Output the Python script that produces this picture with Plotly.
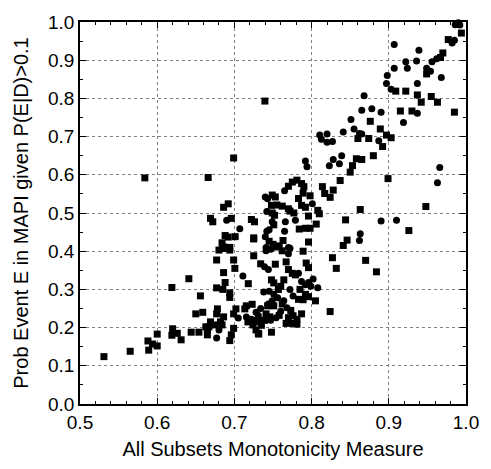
import plotly.graph_objects as go

# Square-marker series (x, y)
sq_x = [0.531,0.565,0.589,0.588,0.594,0.600,0.600,0.584,0.619,0.620,0.619,0.626,0.631,0.641,0.644,0.654,0.650,0.659,0.656,0.665,0.663,0.665,0.669,0.667,0.675,0.666,0.694,0.696,0.699,
        0.669,0.672,0.686,0.692,0.696,0.699,0.688,0.692,0.701,0.684,0.685,0.694,0.680,0.686,0.694,0.677,0.699,0.7006,0.686,0.688,0.677,0.685,0.694,0.694,0.678,0.677,0.702,0.699,0.686,0.682,0.684,0.722,0.726,0.725,0.725,0.718,0.723,0.7155,0.7135,0.7175,0.726,0.724,0.728,
        0.775,0.781,0.787,0.790,0.770,0.789,0.798,0.783,0.787,0.792,0.749,0.753,0.748,0.755,0.762,0.749,0.752,0.770,0.772,0.777,0.796,0.808,0.810,0.806,0.751,0.784,0.792,0.798,0.725,0.745,0.750,0.758,0.763,0.796,0.7395,
        0.753,0.762,0.789,0.734,0.753,0.767,0.793,0.796,0.827,0.770,0.775,0.779,0.748,0.751,0.764,0.760,0.785,0.792,0.796,0.783,0.789,0.805,0.743,0.751,0.741,0.746,0.739,0.730,0.773,0.781,0.776,0.767,0.775,0.781,0.824,0.731,0.748,0.7315,
        0.758,0.762,0.735,0.787,0.770,0.757,
        0.814,0.828,0.817,0.824,0.837,0.850,0.853,0.858,0.865,0.880,0.892,0.860,0.874,0.897,0.903,0.876,0.889,0.899,0.863,0.948,0.844,0.926,0.846,0.841,0.832,0.870,0.884,
        0.909,0.922,0.937,0.942,0.955,0.963,0.915,0.930,0.985,0.949,0.970,0.967,0.977,0.994]
sq_y = [0.124,0.138,0.141,0.165,0.157,0.152,0.183,0.592,0.305,0.197,0.180,0.185,0.168,0.328,0.188,0.188,0.236,0.240,0.283,0.181,0.202,0.194,0.215,0.202,0.207,0.593,0.166,0.181,0.198,
        0.486,0.477,0.515,0.524,0.486,0.644,0.441,0.437,0.438,0.422,0.407,0.410,0.403,0.411,0.403,0.377,0.377,0.355,0.344,0.318,0.304,0.300,0.291,0.279,0.249,0.236,0.249,0.236,0.228,0.215,0.207,0.483,0.477,0.432,0.388,0.315,0.261,0.257,0.249,0.215,0.215,0.207,0.194,
        0.581,0.586,0.577,0.569,0.570,0.552,0.545,0.538,0.520,0.515,0.547,0.542,0.520,0.521,0.518,0.500,0.494,0.511,0.505,0.500,0.492,0.507,0.498,0.471,0.469,0.458,0.460,0.460,0.435,0.426,0.418,0.414,0.428,0.424,0.793,
        0.411,0.401,0.400,0.367,0.366,0.372,0.369,0.357,0.383,0.352,0.342,0.338,0.325,0.317,0.325,0.308,0.300,0.287,0.281,0.274,0.273,0.270,0.257,0.257,0.236,0.228,0.219,0.219,0.245,0.222,0.231,0.211,0.211,0.209,0.242,0.185,0.188,0.183,
        0.232,0.262,0.206,0.236,0.226,0.300,
        0.569,0.560,0.551,0.541,0.585,0.607,0.624,0.642,0.640,0.650,0.674,0.695,0.695,0.704,0.697,0.740,0.720,0.590,0.509,0.517,0.482,0.454,0.429,0.415,0.355,0.376,0.346,
        0.819,0.819,0.809,0.790,0.805,0.790,0.767,0.767,0.764,0.864,0.919,0.907,0.954,0.971]

# Circle-marker series (x, y)
ci_x = [0.690,0.707,0.711,0.705,0.7155,0.680,0.677,
        0.765,0.801,0.740,0.743,0.742,0.779,0.766,0.749,0.745,0.742,0.765,0.740,0.770,0.741,
        0.741,0.747,0.772,0.770,0.739,0.744,0.783,0.802,0.787,0.792,0.796,0.799,0.808,0.772,0.738,0.745,0.751,0.756,0.749,0.764,0.776,0.734,0.728,0.731,0.747,0.722,
        0.760,0.754,0.744,0.768,
        0.8105,0.8127,0.820,0.820,0.827,0.841,0.855,0.862,0.865,0.887,0.792,0.794,0.828,0.839,0.823,0.836,0.966,0.963,0.890,0.910,0.863,0.862,0.851,0.868,0.865,0.878,0.890,0.937,0.919,
        0.907,0.939,0.922,0.936,0.956,0.907,0.924,0.949,0.954,0.898,0.968,0.897,0.937,0.903,0.982,0.985,0.986,0.990,0.992,0.962]
ci_y = [0.481,0.459,0.335,0.225,0.228,0.194,0.173,
        0.558,0.524,0.542,0.537,0.504,0.481,0.477,0.477,0.456,0.452,0.452,0.438,0.410,0.410,
        0.401,0.405,0.408,0.393,0.359,0.352,0.342,0.327,0.321,0.312,0.318,0.308,0.304,0.300,0.293,0.295,0.287,0.278,0.270,0.270,0.283,0.250,0.240,0.232,0.219,0.222,
        0.243,0.226,0.262,0.252,
        0.704,0.693,0.707,0.685,0.687,0.712,0.720,0.708,0.707,0.689,0.636,0.621,0.640,0.650,0.624,0.629,0.619,0.579,0.479,0.481,0.446,0.428,0.745,0.807,0.769,0.773,0.764,0.761,0.737,
        0.941,0.926,0.896,0.898,0.896,0.879,0.879,0.879,0.871,0.860,0.855,0.839,0.839,0.824,0.945,0.952,0.993,0.998,0.992,0.904]

x_ticks = [0.5, 0.6, 0.7, 0.8, 0.9, 1.0]
y_ticks = [0.0, 0.1, 0.2, 0.3, 0.4, 0.5, 0.6, 0.7, 0.8, 0.9, 1.0]

fig = go.Figure()
fig.add_trace(go.Scatter(x=sq_x, y=sq_y, mode="markers", cliponaxis=False,
                         marker=dict(symbol="square", size=7, color="black", line=dict(width=0))))
fig.add_trace(go.Scatter(x=ci_x, y=ci_y, mode="markers", cliponaxis=False,
                         marker=dict(symbol="circle", size=7, color="black", line=dict(width=0))))

font = dict(family="Liberation Sans, Arial, sans-serif", color="black")
axis_common = dict(
    showline=True, linecolor="black", linewidth=1.5, mirror="allticks",
    ticks="inside", ticklen=6, tickwidth=1, tickcolor="black",
    showgrid=True, gridcolor="#7f7f7f", griddash="dot", gridwidth=1,
    zeroline=False, tickfont=dict(size=19, **font),
)
fig.update_xaxes(range=[0.5, 1.0], tickvals=x_ticks, tickformat=".1f",
                 minor=dict(dtick=0.02, ticks="inside", ticklen=3, tickcolor="black", showgrid=False),
                 title=dict(text="All Subsets Monotonicity Measure", font=dict(size=20, **font), standoff=10),
                 **axis_common)
fig.update_yaxes(range=[0.0, 1.0], tickvals=y_ticks, tickformat=".1f",
                 minor=dict(dtick=0.05, ticks="inside", ticklen=3, tickcolor="black", showgrid=False),
                 title=dict(text="Prob Event E in MAPI given P(E|D)>0.1", font=dict(size=20, **font), standoff=14),
                 **axis_common)
fig.update_layout(width=491, height=469, showlegend=False,
                  margin=dict(l=80, r=18, t=16, b=59),
                  plot_bgcolor="white", paper_bgcolor="white")
fig.write_html("out.html")
